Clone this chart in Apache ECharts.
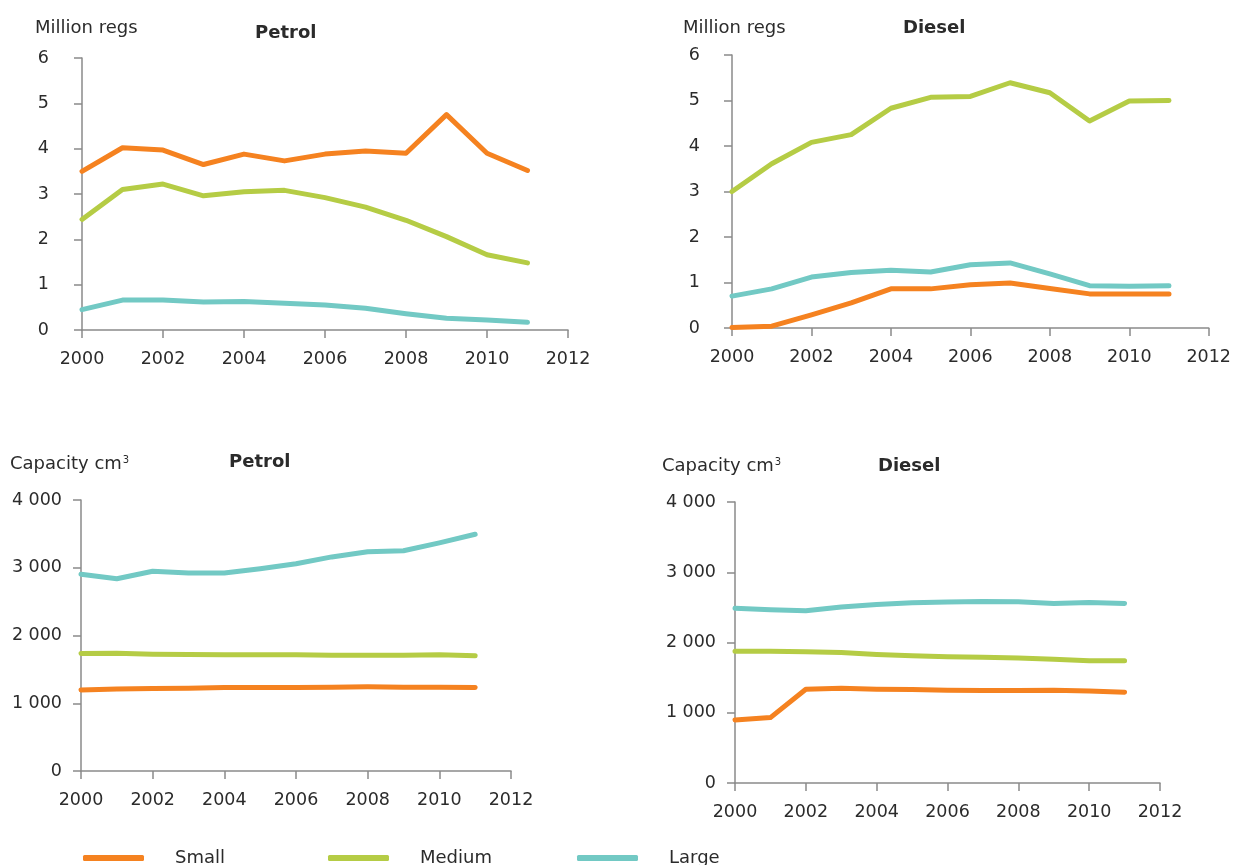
<!DOCTYPE html>
<html>
<head>
<meta charset="utf-8">
<script src="https://cdn.jsdelivr.net/npm/echarts@6/dist/echarts.min.js"></script>
<style>
  html, body { margin: 0; padding: 0; background: #fff; }
  #chart { width: 1234px; height: 865px; }
</style>
</head>
<body>
<div id="chart"></div>
<script>
  // years on the x axis
  const years = [2000, 2001, 2002, 2003, 2004, 2005, 2006, 2007, 2008, 2009, 2010, 2011]
  const seriesNames = ['Small', 'Medium', 'Large']

  // registrations, million
  const petrolRegsSmall  = [3.50, 4.02, 3.97, 3.65, 3.88, 3.73, 3.88, 3.95, 3.90, 4.75, 3.90, 3.52]
  const petrolRegsMedium = [2.44, 3.10, 3.22, 2.96, 3.05, 3.08, 2.92, 2.71, 2.42, 2.06, 1.66, 1.48]
  const petrolRegsLarge  = [0.45, 0.66, 0.66, 0.62, 0.63, 0.59, 0.55, 0.48, 0.36, 0.26, 0.22, 0.17]

  const dieselRegsSmall  = [0.01, 0.04, 0.29, 0.55, 0.86, 0.86, 0.95, 0.99, 0.87, 0.75, 0.75, 0.75]
  const dieselRegsMedium = [3.00, 3.61, 4.08, 4.25, 4.83, 5.07, 5.09, 5.39, 5.17, 4.55, 4.99, 5.00]
  const dieselRegsLarge  = [0.70, 0.86, 1.12, 1.22, 1.27, 1.23, 1.39, 1.43, 1.19, 0.93, 0.92, 0.93]

  // average engine capacity, cm3
  const petrolCapSmall  = [1195, 1212, 1218, 1222, 1232, 1232, 1232, 1236, 1242, 1238, 1238, 1234]
  const petrolCapMedium = [1735, 1738, 1725, 1720, 1715, 1715, 1715, 1710, 1710, 1710, 1715, 1700]
  const petrolCapLarge  = [2905, 2838, 2948, 2922, 2922, 2985, 3058, 3160, 3235, 3250, 3368, 3495]

  const dieselCapSmall  = [898, 931, 1335, 1349, 1335, 1330, 1321, 1316, 1316, 1321, 1311, 1292]
  const dieselCapMedium = [1876, 1876, 1867, 1857, 1829, 1810, 1796, 1791, 1781, 1762, 1739, 1739]
  const dieselCapLarge  = [2489, 2466, 2452, 2504, 2542, 2565, 2575, 2585, 2580, 2556, 2570, 2556]

  const colors = ['#f58220', '#b5cc45', '#72c9c4']
  const font = 'DejaVu Sans'
  const axisColor = '#8a8a8a'
  const textColor = '#2b2b2b'

  // grid boxes: [left, top, width, height]
  const grids = [
    [82, 58, 486, 272],
    [732, 55, 481, 273],
    [81, 500, 430, 271],
    [735, 502, 425, 281]
  ]

  const panels = [
    { data: [petrolRegsSmall, petrolRegsMedium, petrolRegsLarge], max: 6, interval: 1, margin: 33 },
    { data: [dieselRegsSmall, dieselRegsMedium, dieselRegsLarge], max: 6, interval: 1, margin: 32 },
    { data: [petrolCapSmall, petrolCapMedium, petrolCapLarge], max: 4000, interval: 1000, margin: 19 },
    { data: [dieselCapSmall, dieselCapMedium, dieselCapLarge], max: 4000, interval: 1000, margin: 19 }
  ]

  const spaced = v => String(v).replace(/\B(?=(\d{3})+(?!\d))/g, ' ')

  const myChart = echarts.init(document.getElementById('chart'))

  const grid = grids.map(g => ({ left: g[0], top: g[1], width: g[2], height: g[3], containLabel: false }))

  const xAxis = panels.map((p, i) => ({
    type: 'value',
    gridIndex: i,
    min: 2000,
    max: 2012,
    interval: 2,
    axisLine: { show: true, lineStyle: { color: axisColor, width: 1.5 } },
    axisTick: { show: true, length: 8, lineStyle: { color: axisColor, width: 1.5 } },
    splitLine: { show: false },
    axisLabel: { color: textColor, fontFamily: font, fontSize: 17.5, margin: 20, formatter: v => String(v) }
  }))

  const yAxis = panels.map((p, i) => ({
    type: 'value',
    gridIndex: i,
    min: 0,
    max: p.max,
    interval: p.interval,
    axisLine: { show: true, lineStyle: { color: axisColor, width: 1.5 } },
    axisTick: { show: true, length: 8, lineStyle: { color: axisColor, width: 1.5 } },
    splitLine: { show: false },
    axisLabel: { color: textColor, fontFamily: font, fontSize: 17.5, margin: p.margin, formatter: v => spaced(v) }
  }))

  const series = []
  panels.forEach((p, i) => {
    p.data.forEach((arr, k) => {
      series.push({
        name: seriesNames[k],
        type: 'line',
        xAxisIndex: i,
        yAxisIndex: i,
        data: years.map((y, j) => [y, arr[j]]),
        showSymbol: false,
        symbol: 'none',
        color: colors[k],
        lineStyle: { width: 5, color: colors[k], cap: 'round', join: 'round' },
        silent: true
      })
    })
  })

  const unitStyle = { fontFamily: font, fontSize: 18, fontWeight: 'normal', color: textColor }
  const headStyle = { fontFamily: font, fontSize: 18, fontWeight: 'bold', color: textColor }
  const supRich = { rich: { sup: { fontFamily: font, fontSize: 10, color: textColor, verticalAlign: 'top', padding: [0, 0, 8, 1] } } }

  const title = [
    { text: 'Million regs', left: 35, top: 19, padding: 0, textStyle: unitStyle },
    { text: 'Petrol', left: 255, top: 24, padding: 0, textStyle: headStyle },
    { text: 'Million regs', left: 683, top: 19, padding: 0, textStyle: unitStyle },
    { text: 'Diesel', left: 903, top: 19, padding: 0, textStyle: headStyle },
    { text: 'Capacity cm{sup|3}', left: 10, top: 455, padding: 0, textStyle: Object.assign({}, unitStyle, supRich) },
    { text: 'Petrol', left: 229, top: 453, padding: 0, textStyle: headStyle },
    { text: 'Capacity cm{sup|3}', left: 662, top: 457, padding: 0, textStyle: Object.assign({}, unitStyle, supRich) },
    { text: 'Diesel', left: 878, top: 457, padding: 0, textStyle: headStyle }
  ]

  const legendAt = [83, 328, 577]
  const legend = seriesNames.map((n, k) => ({
    data: [n],
    left: legendAt[k],
    top: 849,
    padding: 0,
    icon: 'roundRect',
    itemWidth: 61,
    itemHeight: 6,
    selectedMode: false,
    textStyle: { fontFamily: font, fontSize: 18, color: textColor, padding: [0, 0, 0, 26] }
  }))

  myChart.setOption({
    animation: false,
    backgroundColor: '#fff',
    title,
    legend,
    grid,
    xAxis,
    yAxis,
    series
  })
</script>
</body>
</html>
